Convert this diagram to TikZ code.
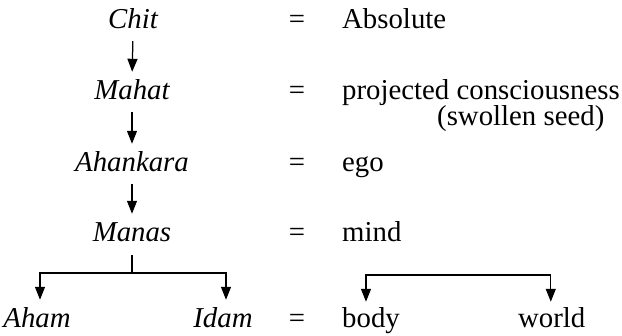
\documentclass[tikz,border=0pt]{standalone}
\usepackage{fontspec}
\setmainfont{Liberation Serif}
\usetikzlibrary{arrows.meta}
\tikzset{
  txt/.style={inner sep=0pt, text height=20pt, text depth=6pt, anchor=base, font=\fontsize{28.8}{32}\selectfont},
  term/.style={txt, font=\fontsize{28.8}{32}\selectfont\itshape},
  rtxt/.style={txt, anchor=base west},
  conn/.style={line width=1.25pt},
  tip/.tip={Triangle[length=13pt,width=10pt]},
  arr/.style={conn, -tip, shorten <=6pt, shorten >=8pt},
}
\begin{document}
\begin{tikzpicture}[x=1pt,y=-1pt]
\useasboundingbox (0,0) rectangle (622,336);
% left column
\node[term] (chit) at (133,29) {Chit};
\node[term] (mahat) at (132,100) {Mahat};
\node[term] (ahankara) at (132,172) {Ahankara};
\node[term] (manas) at (132,242) {Manas};
\node[term] (aham) at (37,328) {Aham};
\node[term] (idam) at (223,328) {Idam};
% equals
\node[txt] (eq1) at (297,29) {=};
\node[txt] (eq2) at (297,100) {=};
\node[txt] (eq3) at (297,172) {=};
\node[txt] (eq4) at (297,242) {=};
\node[txt] (eq5) at (297,328) {=};
% right column
\node[rtxt] (absolute) at (342,29) {Absolute};
\node[rtxt] (projected) at (342,100) {projected consciousness};
\node[rtxt] (swollen) at (437,126) {(swollen seed)};
\node[rtxt] (ego) at (342,172) {ego};
\node[rtxt] (mind) at (342,242) {mind};
\node[rtxt] (body) at (342,328) {body};
\node[rtxt] (world) at (518,328) {world};
% arrows
\draw[arr] (chit.south) -- (mahat.north);
\draw[arr] (mahat.south) -- (ahankara.north);
\draw[arr] (ahankara.south) -- (manas.north);
\coordinate (mj) at (132,273);
\draw[conn, shorten <=7pt] (manas.south) -- (mj);
\draw[arr, shorten <=0pt] (mj) -| ([xshift=3pt]aham.north);
\draw[arr, shorten <=0pt] (mj) -| ([xshift=3pt]idam.north);
\coordinate (bw) at (458,275);
\draw[conn, tip-tip, shorten <=6pt, shorten >=6pt] ([xshift=-5pt]body.north) |- (bw) -| ([xshift=-1pt]world.north);
\end{tikzpicture}
\end{document}
